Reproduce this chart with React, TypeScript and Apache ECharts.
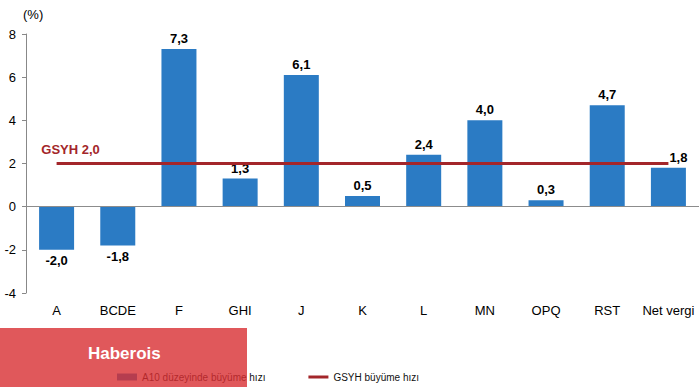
import React, { useEffect, useRef } from "react";
import * as echarts from "echarts";

const categories = ["A", "BCDE", "F", "GHI", "J", "K", "L", "MN", "OPQ", "RST", "Net vergi"];
const growthValues = [-2.0, -1.8, 7.3, 1.3, 6.1, 0.5, 2.4, 4.0, 0.3, 4.7, 1.8];
const gdpGrowth = 2.0;
const yTicks = { min: -4, max: 8, interval: 2 };
const barName = "A10 düzeyinde büyüme hızı";
const lineName = "GSYH büyüme hızı";

const FONT = "'Liberation Sans', Arial, sans-serif";
const BLUE = "#2B7BC4";
const RED = "#A3262A";

const fmt = (v: number) => v.toFixed(1).replace(".", ",");

export default function App() {
  const ref = useRef<HTMLDivElement>(null);
  useEffect(() => {
    document.body.style.margin = "0";
    if (!ref.current) return;
    const chart = echarts.init(ref.current, null, { renderer: "svg" });
    const barData = growthValues.map((v, i) => ({
      value: v,
      label: {
        position: v < 0 ? "bottom" : "top",
        offset: i === growthValues.length - 1 ? [10, 0] : [0, 0],
      },
    }));
    const lineData = categories.map(() => gdpGrowth);
    chart.setOption({
      animation: false,
      textStyle: { fontFamily: FONT },
      grid: { left: 26, top: 34, width: 677, height: 259 },
      legend: {
        left: 117,
        top: 372,
        padding: 0,
        itemGap: 43,
        itemWidth: 20,
        itemHeight: 7,
        textStyle: { fontSize: 10, color: "#111", fontFamily: FONT },
        data: [
          { name: barName, icon: "rect" },
          { name: lineName, icon: "path://M0,0 L20,0 L20,3 L0,3 Z" },
        ],
      },
      xAxis: {
        type: "category",
        data: categories,
        axisLine: { show: false, onZero: false },
        axisTick: { show: false },
        axisLabel: { color: "#000", fontSize: 13, margin: 11, fontFamily: FONT, interval: 0 },
      },
      yAxis: {
        type: "value",
        min: yTicks.min,
        max: yTicks.max,
        interval: yTicks.interval,
        axisLine: { show: true, lineStyle: { color: "#888" } },
        axisTick: { show: true, length: 4, lineStyle: { color: "#888" } },
        axisLabel: { color: "#000", fontSize: 13, margin: 10, fontFamily: FONT },
        splitLine: { show: false },
      },
      graphic: [
        {
          type: "text",
          left: 23,
          top: 8,
          style: { text: "(%)", fill: "#000", font: `13px ${FONT}` },
        },
        {
          type: "rect",
          z: 100,
          shape: { x: 0, y: 328, width: 247, height: 59 },
          style: { fill: "rgba(216,46,50,0.8)" },
        },
        {
          type: "text",
          z: 101,
          left: 88,
          top: 345,
          style: { text: "Haberois", fill: "#fff", font: `bold 17px ${FONT}` },
        },
      ],
      series: [
        {
          name: barName,
          type: "bar",
          data: barData,
          barWidth: 35,
          itemStyle: { color: BLUE },
          label: {
            show: true,
            distance: 4,
            color: "#000",
            fontWeight: "bold",
            fontSize: 13,
            fontFamily: FONT,
            formatter: (p: any) => fmt(p.value),
          },
          markLine: {
            silent: true,
            symbol: ["none", "none"],
            label: { show: false },
            lineStyle: { color: "#8c8c8c", width: 1, type: "solid" },
            data: [{ yAxis: 0 }],
          },
        },
        {
          name: lineName,
          type: "line",
          data: lineData,
          symbol: "none",
          z: 5,
          lineStyle: { color: RED, width: 3 },
          itemStyle: { color: RED },
          markPoint: {
            silent: true,
            symbol: "circle",
            symbolSize: 0,
            data: [{ coord: [0, gdpGrowth], value: gdpGrowth }],
            label: {
              show: true,
              position: "top",
              distance: 5,
              offset: [14, -3],
              formatter: (p: any) => "GSYH " + fmt(p.value),
              color: RED,
              fontWeight: "bold",
              fontSize: 13,
              fontFamily: FONT,
            },
          },
        },
      ],
    });
    return () => chart.dispose();
  }, []);
  return <div ref={ref} style={{ width: 699, height: 387 }} />;
}
